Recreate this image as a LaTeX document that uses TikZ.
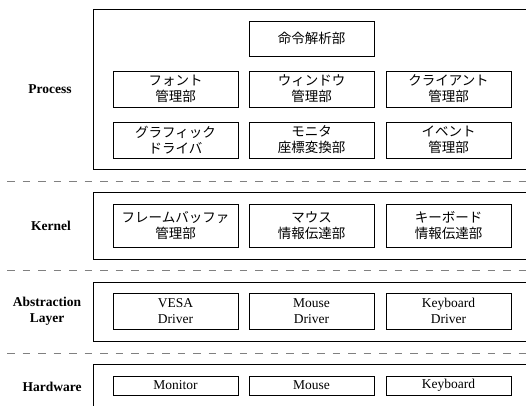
\documentclass[tikz,border=0pt]{standalone}
\usepackage{fontspec}
\setmainfont{Liberation Serif}
\newfontfamily\jpfont{Noto Sans CJK JP}
\newcommand{\txtsize}{\fontsize{13.5}{16}\selectfont}
\begin{document}
\begin{tikzpicture}[x=1pt,y=-1pt,font=\txtsize,
	layer/.style={draw,line width=.9pt,anchor=north west,minimum width=450pt,inner sep=0pt},
	part/.style={draw,line width=.8pt,minimum width=125pt,minimum height=36pt,inner sep=0pt,align=center,font=\txtsize\jpfont},
	drv/.style={part,font=\txtsize},
	lname/.style={align=center,font=\txtsize\bfseries},
	sep/.style={gray,line width=.9pt,dash pattern=on 7.5pt off 8pt}]
	\useasboundingbox (0,0) rectangle (526,405);
	\clip (0,0) rectangle (526,405);
	% layers
	\node[layer,minimum height=160pt] (procL) at (93,9) {};
	\node[layer,minimum height=67pt] (kernL) at (93,192) {};
	\node[layer,minimum height=59pt] (absL) at (93,282) {};
	\node[layer,minimum height=50pt] (hwL) at (93,364) {};
	\foreach \y in {181,270,353} \draw[sep] (7,\y) -- (530,\y);
	\node[lname] (procN) at (50,89) {Process};
	\node[lname] (kernN) at (51,225.5) {Kernel};
	\node[lname] (absN) at (47,311.5) {Abstraction\\Layer};
	\node[lname] (hwN) at (52,387) {Hardware};
	% Process
	\node[part,minimum height=35pt] (cmd) at (311.5,38.5) {命令解析部};
	\node[part] (font) at (175.5,89) {フォント\\管理部};
	\node[part] (win) at (311.5,89) {ウィンドウ\\管理部};
	\node[part] (cli) at (448.5,89) {クライアント\\管理部};
	\node[part] (gfx) at (175.5,140) {グラフィック\\ドライバ};
	\node[part] (mon) at (311.5,140) {モニタ\\座標変換部};
	\node[part] (evt) at (448.5,140) {イベント\\管理部};
	% Kernel
	\node[part,minimum height=43pt] (fb) at (175.5,225.5) {フレームバッファ\\管理部};
	\node[part,minimum height=43pt] (msI) at (311.5,225.5) {マウス\\情報伝達部};
	\node[part,minimum height=43pt] (kbI) at (448.5,225.5) {キーボード\\情報伝達部};
	% Abstraction Layer
	\node[drv] (vesa) at (175.5,311) {VESA\\Driver};
	\node[drv] (msD) at (311.5,311) {Mouse\\Driver};
	\node[drv] (kbD) at (448.5,311) {Keyboard\\Driver};
	% Hardware
	\node[drv,minimum height=19pt] (monH) at (175.5,385.5) {Monitor};
	\node[drv,minimum height=19pt] (msH) at (311.5,385.5) {Mouse};
	\node[drv,minimum height=19pt] (kbH) at (448.5,385.5) {Keyboard};
\end{tikzpicture}
\end{document}
